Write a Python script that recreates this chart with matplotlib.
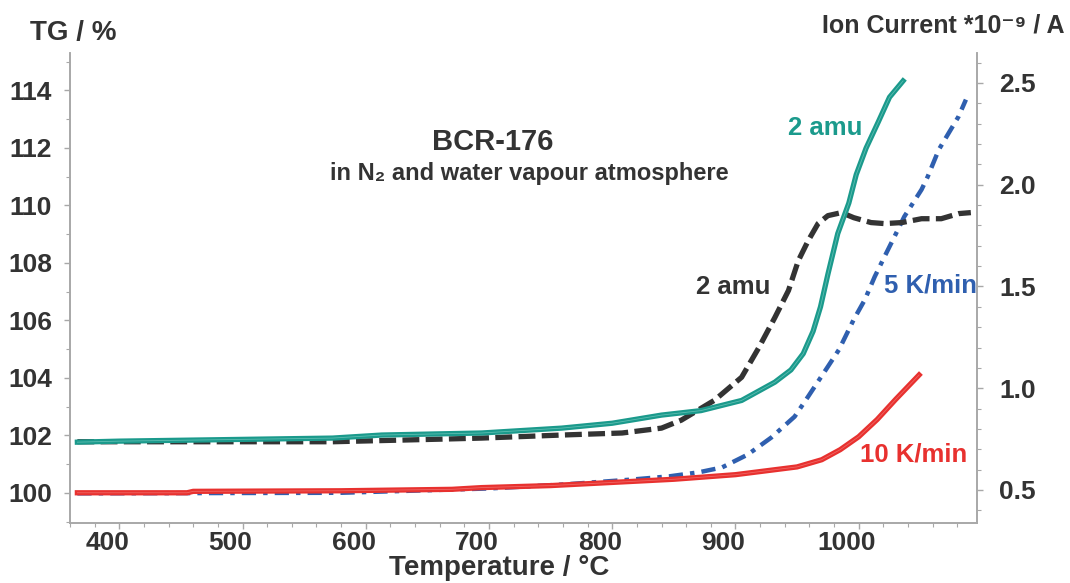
import matplotlib
matplotlib.use("Agg")
import matplotlib.pyplot as plt
from matplotlib.ticker import MultipleLocator, FormatStrFormatter
from matplotlib.transforms import ScaledTranslation

plt.rcParams["font.family"] = ["Liberation Sans", "DejaVu Sans"]
plt.rcParams["font.weight"] = "bold"

# TG curves (left axis, %)
T_10K = [366, 455, 460, 580, 670, 694, 750, 800, 850, 900, 950, 970, 985, 1000, 1015, 1030, 1049]
TG_10K = [100.0, 100.0, 100.05, 100.07, 100.12, 100.18, 100.25, 100.36, 100.47, 100.63,
          100.9, 101.15, 101.5, 101.95, 102.55, 103.25, 104.1]

T_5K = [366, 580, 700, 761, 816, 846, 870, 889, 910, 929, 948, 959, 975, 984, 996,
        1005, 1013, 1021, 1029, 1037, 1051, 1056, 1065, 1081, 1087]
TG_5K = [99.98, 100.0, 100.15, 100.29, 100.46, 100.57, 100.71, 100.88, 101.33, 101.92,
         102.65, 103.35, 104.39, 104.98, 106.03, 106.72, 107.52, 108.22, 108.91, 109.61,
         110.55, 111.0, 111.94, 113.09, 113.68]

# ion current 2 amu (right axis, 1e-9 A)
T_teal = [366, 400, 573, 613, 694, 759, 800, 840, 872, 905, 932, 945, 955, 963, 969,
          975, 983, 992, 998, 1006, 1016, 1025, 1036]
I_teal = [0.735, 0.74, 0.755, 0.77, 0.78, 0.804, 0.828, 0.868, 0.89, 0.94, 1.03, 1.09,
          1.17, 1.28, 1.40, 1.56, 1.76, 1.91, 2.05, 2.18, 2.31, 2.43, 2.51]

T_black = [366, 573, 662, 694, 759, 808, 840, 856, 883, 905, 919, 932, 943, 951, 959,
           967, 975, 986, 996, 1010, 1021, 1035, 1051, 1067, 1081, 1091]
I_black = [0.737, 0.737, 0.75, 0.755, 0.77, 0.78, 0.804, 0.843, 0.941, 1.054, 1.20,
           1.348, 1.48, 1.627, 1.725, 1.809, 1.848, 1.863, 1.838, 1.814, 1.809, 1.814,
           1.833, 1.833, 1.858, 1.863]

RED = "#E8312F"
BLUE = "#2F5FAF"
TEAL = "#1B9A8C"
DARK = "#333333"
GRID = "#A8A8A8"

fig = plt.figure(figsize=(10.7, 5.83), dpi=100)
ax = fig.add_axes([0.0654, 0.103, 0.8477, 0.806])
ax2 = ax.twinx()

ax.plot(T_5K, TG_5K, color=BLUE, lw=3.2, dashes=(3.2, 1.6, 1.0, 1.6), zorder=2)
ax.plot(T_10K, TG_10K, color=RED, lw=3.8, zorder=3)
ax.plot(T_10K, TG_10K, color="#EE6664", lw=0.6, zorder=4)

ax2.plot(T_black, I_black, color=DARK, lw=3.8, dashes=(3.2, 1.2), zorder=2)
ax2.plot(T_teal, I_teal, color=TEAL, lw=3.8, zorder=3)
ax2.plot(T_teal, I_teal, color="#5DBDB1", lw=0.6, zorder=4)

ax.set_xlim(360, 1096)
ax.set_ylim(98.95, 115.3)
ax2.set_ylim(0.338, 2.647)

ax.xaxis.set_major_locator(MultipleLocator(100))
ax.xaxis.set_minor_locator(MultipleLocator(20))
ax.yaxis.set_major_locator(MultipleLocator(2))
ax.yaxis.set_minor_locator(MultipleLocator(1))
ax2.yaxis.set_major_locator(MultipleLocator(0.5))
ax2.yaxis.set_minor_locator(MultipleLocator(0.1))
ax2.yaxis.set_major_formatter(FormatStrFormatter("%.1f"))

for a in (ax, ax2):
    for s in a.spines.values():
        s.set_color(GRID)
        s.set_linewidth(1.2)
    a.spines["top"].set_visible(False)
    a.tick_params(which="both", colors=GRID, labelcolor=DARK, labelsize=19)
    a.tick_params(which="major", length=4, width=1)
    a.tick_params(which="minor", length=3, width=0.8)
ax.tick_params(axis="y", pad=9)
ax.tick_params(axis="x", pad=2)
ax2.tick_params(axis="y", pad=12)

# x tick labels sit a little left of their ticks in the original (~12 px)
shift = ScaledTranslation(-0.12, 0, fig.dpi_scale_trans)
for lab in ax.get_xticklabels():
    lab.set_transform(lab.get_transform() + shift)

ax.set_xlabel("Temperature / °C", fontsize=20, fontweight="bold", color=DARK)
ax.xaxis.set_label_coords(0.473, -0.068)

fig.text(0.028, 0.943, "TG / %", fontsize=20, fontweight="bold", color=DARK, va="center")
fig.text(0.995, 0.957, "Ion Current *10⁻⁹ / A", fontsize=18,
         fontweight="bold", color=DARK, ha="right", va="center")

fig.text(0.460, 0.756, "BCR-176", fontsize=21, fontweight="bold", color=DARK,
         ha="center", va="center")
fig.text(0.495, 0.702, "in N₂ and water vapour atmosphere", fontsize=17,
         fontweight="bold", color=DARK, ha="center", va="center")

fig.text(0.771, 0.780, "2 amu", fontsize=18.5, fontweight="bold", color=TEAL,
         ha="center", va="center")
fig.text(0.685, 0.508, "2 amu", fontsize=18.5, fontweight="bold", color=DARK,
         ha="center", va="center")
fig.text(0.870, 0.511, "5 K/min", fontsize=18.5, fontweight="bold", color=BLUE,
         ha="center", va="center")
fig.text(0.854, 0.2196, "10 K/min", fontsize=18.5, fontweight="bold", color=RED,
         ha="center", va="center")

fig.savefig("out.png", dpi=100)
